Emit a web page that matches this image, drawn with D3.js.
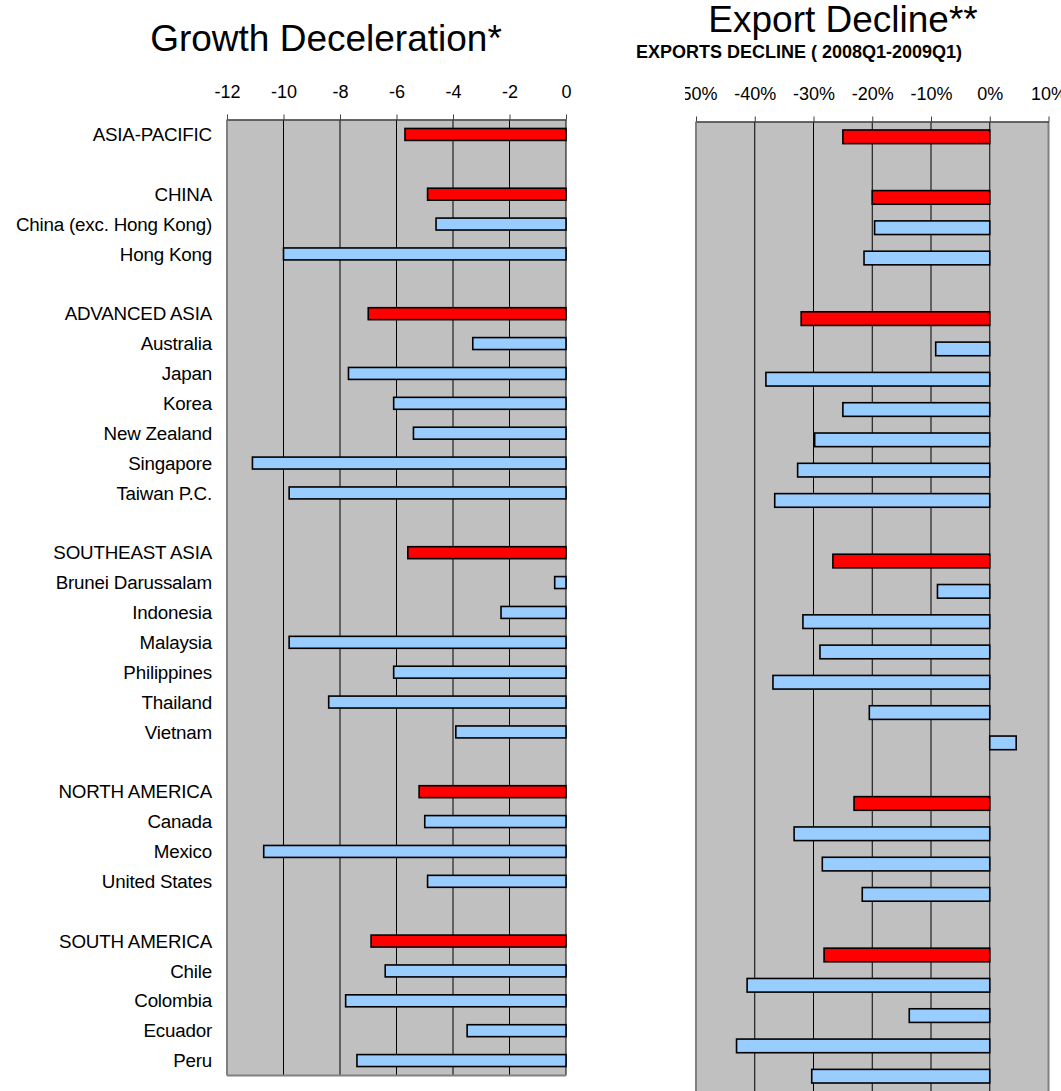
<!DOCTYPE html>
<meta charset="utf-8">
<style>
body {
  margin: 0;
  background: #fff;
}
text {
  font-family: "Liberation Sans", Arial, sans-serif;
  fill: #000;
}
.grid line {
  stroke: #000;
  stroke-width: 1;
}
.axis path, .axis line {
  stroke: #404040;
}
</style>
<body>
<script src="https://cdn.jsdelivr.net/npm/d3@7"></script>
<script>

var width = 1061,
    height = 1091;

// rows, blank strings are the gaps between groups
var rowLabels = ["ASIA-PACIFIC", "", "CHINA", "China (exc. Hong Kong)", "Hong Kong", "",
  "ADVANCED ASIA", "Australia", "Japan", "Korea", "New  Zealand", "Singapore", "Taiwan P.C.", "",
  "SOUTHEAST ASIA", "Brunei Darussalam", "Indonesia", "Malaysia", "Philippines", "Thailand", "Vietnam", "",
  "NORTH AMERICA", "Canada", "Mexico", "United States", "",
  "SOUTH AMERICA", "Chile", "Colombia", "Ecuador", "Peru"];

var regions = ["ASIA-PACIFIC", "CHINA", "ADVANCED ASIA", "SOUTHEAST ASIA", "NORTH AMERICA", "SOUTH AMERICA"];

var growthDecel = [-5.7, null, -4.9, -4.6, -10.0, null,
  -7.0, -3.3, -7.7, -6.1, -5.4, -11.1, -9.8, null,
  -5.6, -0.4, -2.3, -9.8, -6.1, -8.4, -3.9, null,
  -5.2, -5.0, -10.7, -4.9, null,
  -6.9, -6.4, -7.8, -3.5, -7.4];

var exportDecline = [-25.0, null, -20.0, -19.6, -21.4, null,
  -32.1, -9.2, -38.1, -25.0, -29.8, -32.7, -36.6, null,
  -26.7, -8.9, -31.8, -28.9, -36.9, -20.5, 4.5, null,
  -23.1, -33.3, -28.5, -21.7, null,
  -28.2, -41.3, -13.7, -43.1, -30.3];

var growthTicks = [-12, -10, -8, -6, -4, -2, 0];
var exportTicks = [-50, -40, -30, -20, -10, 0, 10];

var svg = d3.select("body").append("svg")
    .attr("width", width)
    .attr("height", height);

var rows = d3.range(rowLabels.length);

function panel(g, x, y, values, ticks, fmt, opts) {
  var x0 = x.range()[0], x1 = x.range()[1],
      y0 = y.range()[0], y1 = y.range()[1];

  g.append("rect")
      .attr("x", x0)
      .attr("y", y0)
      .attr("width", x1 - x0)
      .attr("height", y1 - y0)
      .attr("fill", "#c0c0c0");

  g.append("g")
      .attr("class", "grid")
    .selectAll("line")
      .data(ticks.slice(1, opts.lastGrid ? ticks.length : -1))
    .enter().append("line")
      .attr("x1", function(d) { return x(d); })
      .attr("x2", function(d) { return x(d); })
      .attr("y1", y0)
      .attr("y2", y1);

  // plot edges
  g.append("line")
      .attr("x1", x0).attr("x2", x0)
      .attr("y1", y0).attr("y2", y1)
      .attr("stroke", "#808080")
      .attr("stroke-width", 2);
  if (opts.rightEdge) {
    g.append("line")
        .attr("x1", x1).attr("x2", x1)
        .attr("y1", y0).attr("y2", y1)
        .attr("stroke", "#808080")
        .attr("stroke-width", 2);
  }
  if (opts.bottomEdge) {
    g.append("line")
        .attr("x1", x0).attr("x2", x1)
        .attr("y1", y1).attr("y2", y1)
        .attr("stroke", "#808080")
        .attr("stroke-width", 2);
  }

  g.selectAll(".bar")
      .data(rows.filter(function(i) { return values[i] != null; }))
    .enter().append("rect")
      .attr("class", "bar")
      .attr("x", function(i) { return x(Math.min(0, values[i])); })
      .attr("y", function(i) { return y(i); })
      .attr("width", function(i) { return Math.abs(x(values[i]) - x(0)); })
      .attr("height", y.bandwidth())
      .attr("fill", function(i) { return regions.indexOf(rowLabels[i]) >= 0 ? "#ff0000" : "#99ccff"; })
      .attr("stroke", "#000")
      .attr("stroke-width", 1.6);

  var axis = g.append("g")
      .attr("class", "axis")
      .attr("transform", "translate(0," + y0 + ")")
      .call(d3.axisTop(x)
        .tickValues(ticks)
        .tickSize(5)
        .tickSizeOuter(0)
        .tickPadding(17)
        .tickFormat(fmt));
  axis.select(".domain").attr("stroke-width", 1.5);
  axis.selectAll("text")
      .attr("font-family", "'Liberation Sans', Arial, sans-serif")
      .attr("font-size", 18)
      .attr("fill", "#000");
}

// left: growth deceleration
var xGrowth = d3.scaleLinear().domain([-12, 0]).range([227, 566]);
var yGrowth = d3.scaleBand().domain(rows).range([119.5, 1075.5]).paddingInner(0.6).paddingOuter(0.3);

var left = svg.append("g");
panel(left, xGrowth, yGrowth, growthDecel, growthTicks,
  function(d) { return String(d); }, {lastGrid: true, bottomEdge: true});

left.selectAll(".label")
    .data(rows.filter(function(i) { return rowLabels[i] !== ""; }))
  .enter().append("text")
    .attr("class", "label")
    .attr("x", 212)
    .attr("y", function(i) { return yGrowth(i) + yGrowth.bandwidth() / 2; })
    .attr("dy", "0.35em")
    .attr("text-anchor", "end")
    .attr("font-size", 18.8)
    .attr("letter-spacing", "-0.2")
    .text(function(i) { return rowLabels[i]; });

left.append("text")
    .attr("x", 326)
    .attr("y", 51)
    .attr("text-anchor", "middle")
    .attr("font-size", 37)
    .text("Growth Deceleration*");

// right: export decline, cut off on both sides like the original
svg.append("clipPath")
    .attr("id", "clipRight")
  .append("rect")
    .attr("x", 685)
    .attr("y", 0)
    .attr("width", width - 685)
    .attr("height", height);

var xExport = d3.scaleLinear().domain([-50, 10]).range([696, 1048.5]);
var yExport = d3.scaleBand().domain(rows).range([121.5, 1091.5]).paddingInner(0.55).paddingOuter(0.28);

var right = svg.append("g").attr("clip-path", "url(#clipRight)");
panel(right, xExport, yExport, exportDecline, exportTicks,
  function(d) { return d + "%"; }, {lastGrid: false, rightEdge: true});

svg.append("text")
    .attr("x", 843)
    .attr("y", 32)
    .attr("text-anchor", "middle")
    .attr("font-size", 37)
    .text("Export Decline**");

svg.append("text")
    .attr("x", 799)
    .attr("y", 58)
    .attr("text-anchor", "middle")
    .attr("font-size", 18)
    .attr("font-weight", "bold")
    .text("EXPORTS DECLINE ( 2008Q1-2009Q1)");

</script>
